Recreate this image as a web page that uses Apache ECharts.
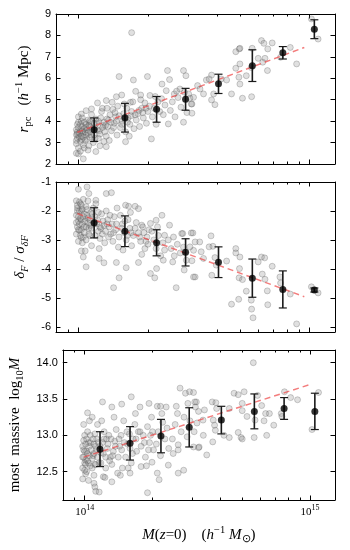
<!DOCTYPE html>
<html>
<head>
<meta charset="utf-8">
<script src="https://cdn.jsdelivr.net/npm/echarts@6/dist/echarts.min.js"></script>
<style>
  html, body { margin: 0; padding: 0; background: #fff; }
  #chart { width: 350px; height: 550px; }
</style>
</head>
<body>
<div id="chart"></div>
<script>
// halo mass in units of 1e14 h^-1 Msun
const binMass = [1.17, 1.59, 2.18, 2.91, 4.04, 5.66, 7.67, 10.5];

const rpcMean = [3.6, 4.16, 4.55, 5.02, 5.74, 6.59, 7.19, 8.29];
const rpcErr = [0.55, 0.67, 0.6, 0.51, 0.45, 0.74, 0.29, 0.44];
const deltaMean = [-2.41, -2.7, -3.1, -3.43, -3.77, -4.32, -4.71, -4.73];
const deltaErr = [0.52, 0.53, 0.45, 0.47, 0.53, 0.66, 0.64, 0.07];
const massMean = [12.81, 12.89, 12.99, 13.11, 13.21, 13.33, 13.37, 13.33];
const massErr = [0.24, 0.23, 0.23, 0.27, 0.19, 0.24, 0.15, 0.25];

// dashed fits, end points
const rpcFit = [[0.99, 3.48], [9.5, 7.44]];
const deltaFit = [[0.99, -2.09], [9.5, -4.96]];
const massFit = [[0.99, 12.7], [10.0, 13.7]];

// individual haloes [mass, value]
const rpcPts = [
  [1.70,8.13],[1.50,6.08],[1.99,6.08],[1.73,5.92],[2.43,6.36],[2.85,6.36],[2.92,6.12],[2.48,5.94],[2.30,5.73],
  [1.77,5.39],[1.86,5.22],[1.54,5.22],[1.46,5.14],[1.21,4.85],[1.32,4.96],[1.40,4.88],[1.68,4.88],[2.04,5.2],
  [2.40,5.42],[2.6,5.27],[2.75,5.5],[3.0,5.27],[3.1,4.8],[2.85,3.95],[2.45,3.87],[2.07,3.17],[1.60,3.04],
  [1.32,2.81],[1.19,2.58],[1.05,2.24],[1.0,2.47],[0.98,3.37],[1.03,4.33],[1.08,4.49],[1.14,4.57],
  [0.98,2.5],[0.98,2.95],[0.99,3.2],[0.98,3.6],[0.99,3.85],[1.0,4.2],[0.99,3.4],[1.0,2.75],
  [1.02,2.6],[1.02,3.05],[1.03,3.3],[1.02,3.55],[1.04,3.75],[1.03,4.0],[1.05,2.9],[1.05,3.45],[1.06,3.65],[1.04,4.15],[1.06,2.75],
  [1.07,3.1],[1.08,3.35],[1.09,3.6],[1.08,3.85],[1.10,4.05],[1.11,2.85],[1.12,3.25],[1.13,3.5],[1.12,3.75],[1.14,4.3],[1.10,2.65],[1.13,3.95],
  [1.16,3.0],[1.17,3.35],[1.18,3.7],[1.20,3.9],[1.22,3.2],[1.23,3.55],[1.25,4.15],[1.26,4.45],[1.28,3.8],[1.29,3.05],[1.24,2.85],[1.19,4.1],[1.27,4.6],[1.30,3.5],
  [1.32,3.3],[1.34,3.75],[1.35,4.05],[1.37,4.3],[1.39,3.55],[1.41,4.55],[1.43,3.9],[1.45,4.2],[1.47,3.35],[1.48,4.7],[1.36,3.1],[1.44,4.4],[1.33,4.6],
  [1.52,3.7],[1.55,4.0],[1.57,4.35],[1.60,3.5],[1.62,4.6],[1.64,4.15],[1.67,3.85],[1.70,4.45],[1.72,4.9],[1.74,3.65],[1.58,4.8],[1.66,3.3],
  [1.78,4.05],[1.81,4.35],[1.84,3.75],[1.88,4.6],[1.91,4.15],[1.94,4.85],[1.97,3.9],[2.0,4.45],[2.03,4.7],[1.86,5.0],
  [2.09,4.2],[2.13,4.6],[2.17,3.85],[2.21,4.9],[2.25,4.45],[2.29,5.05],[2.33,4.3],[2.37,4.75],[2.15,5.15],
  [2.5,4.5],[2.55,4.9],[2.62,4.2],[2.7,5.1],[2.78,4.65],[2.88,5.35],[2.95,4.4],[2.66,5.4],
  [0.98,3.1],[0.99,3.5],[1.0,3.7],[1.0,3.95],[1.01,3.25],[1.01,3.45],[1.02,3.85],[1.03,3.15],[1.04,3.55],[1.05,3.25],
  [1.06,3.95],[1.07,3.5],[1.08,3.7],[1.09,3.15],[1.10,3.45],[1.11,3.8],[1.12,4.0],[1.14,3.35],[1.15,3.65],[1.17,3.9],
  [1.18,3.2],[1.21,3.6],[1.22,4.0],[1.24,3.4],[1.27,3.7],[1.29,3.95],[1.31,3.8],[1.33,4.1],[1.38,3.95],[1.42,3.7],
  [1.46,4.0],[1.5,4.25],[1.54,3.85],[1.59,4.1],[1.63,3.95],[1.69,4.25],[1.76,4.3],[1.83,4.5],[1.9,4.4],[1.96,4.6],
  [3.04,5.07],[3.08,4.8],[3.1,4.37],[3.15,5.11],[3.28,5.66],[3.36,5.5],[3.48,5.27],[3.58,5.92],[3.68,5.97],
  [3.77,6.15],[3.85,5.27],[3.77,4.99],[3.9,4.77],[4.15,5.97],[4.38,5.92],[4.6,5.27],[4.8,6.47],[5.0,6.67],
  [4.8,7.24],[4.97,7.37],[5.0,7.4],[4.95,6.05],[5.0,5.73],[5.13,5.07],[5.33,6.12],[5.65,7.4],[5.6,6.5],
  [5.62,5.14],[6.0,6.93],[6.2,7.76],[6.35,7.63],[6.28,6.75],[6.42,6.93],[6.58,6.36],[6.6,7.37],[6.9,7.65],
  [7.5,6.98],[8.26,7.44],[8.8,6.67],[10.2,8.77],[10.9,7.83]
];

const deltaPts = [
  [1.0,-1.25],[1.09,-1.17],[1.11,-1.4],[1.32,-1.4],[1.39,-1.37],[1.19,-1.63],[1.01,-1.69],[1.03,-1.8],[1.6,-1.8],
  [1.65,-1.84],[1.76,-1.84],[1.82,-1.92],[2.17,-2.32],[2.3,-2.15],[2.48,-2.49],[2.8,-2.78],[3.13,-2.76],[2.05,-2.43],
  [1.88,-2.49],[1.01,-2.67],[1.03,-2.92],[1.03,-3.38],[1.07,-3.38],[1.05,-3.59],[1.08,-3.93],[1.23,-3.64],[1.29,-3.79],
  [1.46,-3.78],[1.61,-3.96],[1.5,-4.31],[1.42,-4.65],[1.82,-3.78],[2.05,-4.16],[2.14,-4.31],[2.18,-3.99],[2.33,-3.7],
  [2.56,-3.76],[2.65,-4.65],[2.87,-4.04],[3.2,-4.28],[3.15,-3.36],[2.83,-2.78],[2.36,-2.84],
  [0.98,-1.65],[0.99,-1.9],[0.98,-2.15],[1.0,-2.35],[0.99,-2.55],[0.98,-2.8],[1.0,-3.05],[0.99,-2.0],
  [1.02,-1.75],[1.03,-2.0],[1.02,-2.25],[1.04,-2.45],[1.03,-2.65],[1.05,-2.9],[1.06,-2.1],[1.05,-1.6],[1.04,-3.1],[1.06,-2.55],
  [1.08,-1.85],[1.09,-2.15],[1.10,-2.4],[1.11,-2.6],[1.12,-2.85],[1.13,-2.05],[1.14,-3.2],[1.10,-1.65],[1.13,-2.5],[1.08,-3.0],
  [1.16,-1.9],[1.18,-2.2],[1.20,-2.45],[1.22,-2.7],[1.24,-2.95],[1.26,-2.1],[1.28,-2.35],[1.30,-3.1],[1.19,-1.75],[1.25,-2.6],[1.23,-3.3],
  [1.32,-2.0],[1.34,-2.3],[1.36,-2.55],[1.38,-2.8],[1.41,-3.05],[1.43,-2.2],[1.45,-2.65],[1.47,-1.9],[1.49,-3.25],[1.35,-2.9],[1.40,-2.45],
  [1.52,-2.15],[1.55,-2.45],[1.58,-2.75],[1.61,-3.0],[1.64,-2.3],[1.67,-2.6],[1.70,-3.2],[1.73,-2.85],[1.56,-3.35],[1.68,-2.05],
  [1.78,-2.4],[1.82,-2.75],[1.86,-3.05],[1.90,-2.55],[1.94,-3.3],[1.98,-2.9],[2.02,-2.65],[1.88,-3.5],[2.0,-3.15],
  [2.08,-2.7],[2.12,-3.0],[2.17,-3.3],[2.22,-2.85],[2.27,-3.55],[2.32,-3.1],[2.36,-3.35],[2.20,-2.55],
  [2.45,-3.0],[2.52,-3.3],[2.6,-3.55],[2.68,-3.15],[2.76,-3.45],[2.85,-3.25],[2.93,-3.7],[2.58,-2.9],
  [0.98,-2.4],[0.99,-1.8],[1.0,-2.2],[1.0,-2.65],[1.01,-2.0],[1.01,-2.45],[1.02,-2.85],[1.03,-2.3],[1.04,-1.95],[1.05,-2.2],
  [1.06,-2.75],[1.07,-2.35],[1.08,-2.55],[1.09,-1.95],[1.1,-2.25],[1.11,-2.8],[1.12,-2.3],[1.14,-2.6],[1.15,-2.1],[1.17,-2.45],
  [1.18,-2.85],[1.21,-2.3],[1.22,-2.05],[1.24,-2.55],[1.27,-2.8],[1.29,-2.5],[1.31,-2.7],[1.33,-2.45],[1.37,-2.15],[1.42,-2.75],
  [1.46,-2.45],[1.5,-2.9],[1.54,-2.6],[1.59,-2.35],[1.63,-2.85],[1.69,-2.75],[1.76,-2.6],[1.84,-2.9],[1.92,-2.75],[1.96,-3.05],
  [3.08,-2.76],[3.04,-3.24],[3.1,-3.72],[3.15,-4.28],[3.2,-3.07],[3.35,-3.07],[3.4,-3.41],[3.48,-3.64],[3.68,-3.24],
  [3.75,-2.86],[3.82,-3.22],[3.78,-4.22],[3.9,-3.61],[3.95,-3.87],[4.38,-3.73],[4.8,-3.3],[4.8,-3.45],[5.0,-3.59],
  [4.98,-3.99],[4.96,-4.31],[5.13,-4.37],[5.33,-4.77],[4.94,-5.05],[4.6,-5.22],[5.6,-5.08],[5.62,-5.39],[5.7,-5.69],
  [6.0,-3.76],[6.2,-3.59],[6.4,-3.62],[6.25,-4.18],[6.42,-4.36],[6.57,-4.76],[6.6,-5.24],[6.9,-3.91],[7.45,-4.28],
  [7.5,-4.49],[8.26,-4.87],[8.8,-5.9],[10.2,-4.62],[10.9,-4.83]
];

const massPts = [
  [1.2,13.46],[1.32,13.39],[1.46,13.43],[1.61,13.53],[1.76,13.39],[1.93,13.44],[2.1,13.4],[2.17,13.4],[2.3,13.39],
  [2.55,13.4],[2.65,13.65],[2.8,13.58],[2.92,13.6],[3.13,13.46],[2.87,13.44],[1.03,13.31],[1.01,12.66],[1.01,12.47],
  [1.1,12.34],[1.11,12.29],[1.12,12.23],[1.16,12.22],[1.21,12.43],[1.32,12.36],[1.44,12.45],[1.59,12.48],[1.78,12.57],
  [1.9,12.21],[1.99,12.63],[2.1,12.48],[2.14,12.39],[2.35,12.59],[2.6,12.48],[2.75,12.52],[2.6,12.87],[2.47,12.75],[3.22,12.84],
  [0.98,12.55],[0.99,12.7],[0.98,12.85],[1.0,13.0],[0.99,13.15],[0.98,12.4],[1.0,12.62],[0.99,12.93],
  [1.02,12.5],[1.03,12.65],[1.02,12.78],[1.04,12.9],[1.03,13.05],[1.05,13.2],[1.06,12.58],[1.05,12.85],[1.04,12.38],[1.06,13.0],
  [1.08,12.55],[1.09,12.72],[1.10,12.88],[1.11,13.02],[1.12,12.6],[1.13,12.8],[1.14,13.15],[1.10,12.45],[1.13,12.95],[1.08,13.25],
  [1.16,12.62],[1.18,12.76],[1.20,12.9],[1.22,13.05],[1.24,12.55],[1.26,12.82],[1.28,13.0],[1.30,12.7],[1.19,13.2],[1.25,12.95],[1.23,12.42],
  [1.32,12.6],[1.34,12.78],[1.36,12.92],[1.38,13.08],[1.41,12.7],[1.43,12.85],[1.45,13.0],[1.47,12.55],[1.49,13.2],[1.35,13.25],[1.40,12.48],
  [1.52,12.7],[1.55,12.88],[1.58,13.02],[1.61,12.62],[1.64,12.95],[1.67,13.15],[1.70,12.78],[1.73,13.05],[1.56,12.55],[1.68,13.3],
  [1.78,12.85],[1.82,13.0],[1.86,12.7],[1.90,13.12],[1.94,12.9],[1.98,13.25],[2.02,12.8],[1.88,12.58],[2.0,13.05],
  [2.08,12.88],[2.12,13.05],[2.17,12.72],[2.22,13.18],[2.27,12.95],[2.32,13.1],[2.36,12.82],[2.20,13.3],
  [2.45,12.95],[2.52,13.15],[2.6,12.8],[2.68,13.05],[2.76,13.25],[2.85,12.98],[2.93,13.2],[2.58,13.3],
  [0.98,12.7],[0.99,12.8],[1.0,12.78],[1.0,12.52],[1.01,12.88],[1.01,12.6],[1.02,12.95],[1.03,12.75],[1.04,12.62],[1.05,12.72],
  [1.06,12.9],[1.07,12.8],[1.08,12.68],[1.09,12.95],[1.1,12.75],[1.11,12.6],[1.12,12.85],[1.14,12.7],[1.15,12.9],[1.17,12.85],
  [1.18,12.62],[1.21,12.75],[1.22,12.95],[1.24,12.7],[1.27,12.88],[1.29,12.65],[1.31,12.95],[1.33,12.72],[1.37,12.85],[1.42,12.95],
  [1.46,12.8],[1.5,12.9],[1.54,13.05],[1.59,12.82],[1.63,12.75],[1.69,12.95],[1.76,13.05],[1.84,12.9],[1.92,12.8],[1.96,13.0],
  [5.6,14.0],[4.6,13.58],[4.8,13.56],[5.1,13.6],[5.85,13.55],[5.0,13.44],[5.0,13.34],[5.25,13.26],[5.7,13.21],
  [6.1,13.41],[6.25,13.2],[6.35,13.3],[6.6,13.3],[6.9,13.14],[7.7,13.6],[8.2,13.52],[8.8,13.49],[7.45,13.3],
  [7.5,13.26],[4.8,13.04],[4.94,12.97],[5.0,12.95],[5.65,12.97],[6.42,13.0],[10.2,13.08],[10.9,13.59],
  [3.04,13.59],[3.08,13.46],[3.1,13.39],[3.2,13.33],[3.4,13.35],[3.15,13.17],[3.06,13.05],[3.35,13.21],[3.36,13.0],
  [3.68,13.46],[3.82,13.45],[3.85,13.37],[3.72,13.21],[3.77,13.14],[3.8,13.07],[4.38,13.37],[4.15,13.0],[4.38,12.97],
  [3.7,12.91],[3.2,12.83],[3.48,12.73],[3.04,12.84]
];

const majorTicks = [1, 10];
const minorTicks = [0.9, 2, 3, 4, 5, 6, 7, 8, 9];
const serif = 'Liberation Serif';
const sans = 'Liberation Sans';

const grids = [
  { left: 56, right: 15, top: 14, height: 150 },
  { left: 56, right: 15, top: 182, height: 150 },
  { left: 56, right: 15, top: 350, height: 150 }
];

const mathRich = {
  t: { fontFamily: serif, fontSize: 15, lineHeight: 20, color: '#000' },
  i: { fontFamily: serif, fontSize: 15, lineHeight: 20, fontStyle: 'italic', color: '#000' },
  sb: { fontFamily: serif, fontSize: 10.5, lineHeight: 10, verticalAlign: 'bottom', color: '#000' },
  sbi: { fontFamily: serif, fontSize: 10.5, lineHeight: 10, fontStyle: 'italic', verticalAlign: 'bottom', color: '#000' },
  sp: { fontFamily: serif, fontSize: 10.5, lineHeight: 10, verticalAlign: 'top', color: '#000' }
};

function xAxes(g, withLabels) {
  const out = [];
  ['bottom', 'top'].forEach(function (pos) {
    [true, false].forEach(function (major) {
      const ax = {
        type: 'log', logBase: 10, min: 0.8, max: 12.9, gridIndex: g, position: pos,
        splitLine: { show: false },
        axisLine: { show: major, onZero: false, lineStyle: { color: '#000', width: 1 } },
        axisTick: { show: true, inside: true, length: major ? 4.5 : 2.5,
          customValues: major ? majorTicks : minorTicks, lineStyle: { color: '#000', width: 1 } },
        axisLabel: { show: false }
      };
      if (withLabels && major && pos === 'bottom') {
        ax.axisLabel = {
          show: true, customValues: majorTicks, margin: 4,
          formatter: function (v) { return '{b|10}{s|' + (v >= 5 ? '15' : '14') + '}'; },
          rich: {
            b: { fontFamily: serif, fontSize: 11, lineHeight: 16, color: '#000' },
            s: { fontFamily: serif, fontSize: 8, lineHeight: 9, verticalAlign: 'top', color: '#000' }
          }
        };
        ax.name = '{i|M}{t|(}{i|z}{t|=0)    (}{i|h}{sp|\u22121}{t| }{i|M}{sb|\u2299}{t|)}';
        ax.nameLocation = 'middle';
        ax.nameGap = 25;
        ax.nameTextStyle = { rich: mathRich };
      }
      out.push(ax);
    });
  });
  return out;
}

function yAxes(g, cfg) {
  const tick = { show: true, inside: true, length: 4.5, lineStyle: { color: '#000', width: 1 } };
  const line = { show: true, onZero: false, lineStyle: { color: '#000', width: 1 } };
  const left = {
    type: 'value', gridIndex: g, position: 'left', min: cfg.min, max: cfg.max,
    splitLine: { show: false }, axisLine: line,
    axisTick: Object.assign({ customValues: cfg.ticks }, tick),
    axisLabel: { customValues: cfg.ticks, margin: 5, fontFamily: sans, fontSize: 11, color: '#000',
      formatter: cfg.fmt },
    name: cfg.name, nameLocation: 'middle', nameGap: cfg.gap,
    nameTextStyle: { rich: mathRich }
  };
  const right = {
    type: 'value', gridIndex: g, position: 'right', min: cfg.min, max: cfg.max,
    splitLine: { show: false }, axisLine: line,
    axisTick: Object.assign({ customValues: cfg.ticks }, tick),
    axisLabel: { show: false }
  };
  return [left, right];
}

function panelSeries(g, pts, fit, mean, err) {
  const xi = g * 4, yi = g * 2;
  return [
    {
      type: 'scatter', xAxisIndex: xi, yAxisIndex: yi, data: pts, symbolSize: 6, z: 1,
      itemStyle: { color: 'rgba(128,128,128,0.3)', borderColor: 'rgba(70,70,70,0.4)', borderWidth: 0.8 },
      silent: true
    },
    {
      type: 'line', xAxisIndex: xi, yAxisIndex: yi, data: fit, showSymbol: false, z: 2,
      lineStyle: { color: 'rgba(238,70,70,0.7)', width: 1.5, type: [6, 4] }, silent: true
    },
    {
      type: 'custom', xAxisIndex: xi, yAxisIndex: yi, z: 3, silent: true,
      data: binMass.map(function (m, k) { return [m, mean[k], err[k]]; }),
      encode: { x: 0, y: 1 },
      renderItem: function (params, api) {
        const top = api.coord([api.value(0), api.value(1) + api.value(2)]);
        const bot = api.coord([api.value(0), api.value(1) - api.value(2)]);
        const c = 4, st = { stroke: '#1a1a1a', lineWidth: 1.6 };
        return {
          type: 'group', children: [
            { type: 'line', shape: { x1: top[0], y1: top[1], x2: bot[0], y2: bot[1] }, style: st },
            { type: 'line', shape: { x1: top[0] - c, y1: top[1], x2: top[0] + c, y2: top[1] }, style: { stroke: '#1a1a1a', lineWidth: 1.2 } },
            { type: 'line', shape: { x1: bot[0] - c, y1: bot[1], x2: bot[0] + c, y2: bot[1] }, style: { stroke: '#1a1a1a', lineWidth: 1.2 } }
          ]
        };
      }
    },
    {
      type: 'scatter', xAxisIndex: xi, yAxisIndex: yi, z: 4, symbolSize: 7, silent: true,
      data: binMass.map(function (m, k) { return [m, mean[k]]; }),
      itemStyle: { color: '#000' }
    }
  ];
}

const chart = echarts.init(document.getElementById('chart'));
const option = {
  animation: false,
  grid: grids,
  xAxis: [].concat(xAxes(0, false), xAxes(1, false), xAxes(2, true)),
  yAxis: [].concat(
    yAxes(0, { min: 2, max: 9, ticks: [2, 3, 4, 5, 6, 7, 8, 9], gap: 15,
      fmt: function (v) { return String(v); },
      name: '{i|r}{sb|pc}{t|   (}{i|h}{sp|\u22121}{t| Mpc)}' }),
    yAxes(1, { min: -6.18, max: -1, ticks: [-6, -5, -4, -3, -2, -1], gap: 20,
      fmt: function (v) { return String(v); },
      name: '{i|\u03b4}{sbi|F}{t| / }{i|\u03c3}{sbi|\u03b4F}' }),
    yAxes(2, { min: 12.11, max: 14.175, ticks: [12.5, 13, 13.5, 14], gap: 31,
      fmt: function (v) { return v.toFixed(1); },
      name: '{t|most  massive  log}{sb|10}{i|M}' })
  ),
  series: [].concat(
    panelSeries(0, rpcPts, rpcFit, rpcMean, rpcErr),
    panelSeries(1, deltaPts, deltaFit, deltaMean, deltaErr),
    panelSeries(2, massPts, massFit, massMean, massErr)
  )
};
chart.setOption(option);
</script>
</body>
</html>
